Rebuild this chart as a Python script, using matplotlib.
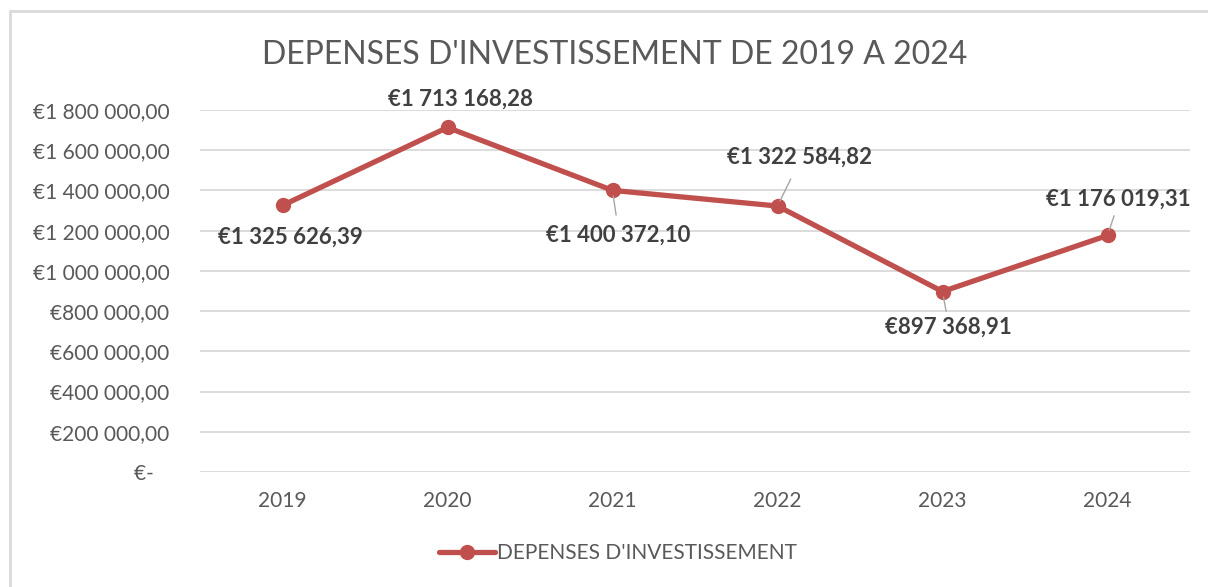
import matplotlib
matplotlib.use("Agg")
import matplotlib.pyplot as plt
from matplotlib.patches import Rectangle

# Data
years = ["2019", "2020", "2021", "2022", "2023", "2024"]
depenses = [1325626.39, 1713168.28, 1400372.10, 1322584.82, 897368.91, 1176019.31]
labels = ["€1 325 626,39", "€1 713 168,28", "€1 400 372,10",
          "€1 322 584,82", "€897 368,91", "€1 176 019,31"]
yticks = [0, 200000, 400000, 600000, 800000, 1000000, 1200000, 1400000, 1600000, 1800000]
ytick_labels = ["€-   ", "€200 000,00", "€400 000,00", "€600 000,00", "€800 000,00",
                "€1 000 000,00", "€1 200 000,00", "€1 400 000,00", "€1 600 000,00",
                "€1 800 000,00"]

# label offsets (pixels) and whether a leader line is drawn
offsets = [(8, -32), (13, 28), (6, -45), (22, 49), (6, -36), (11, 36)]
leaders = [False, False, True, True, True, True]

plt.rcParams['font.family'] = ['Lato', 'DejaVu Sans']
red = '#C0504D'
grey = '#595959'

fig = plt.figure(figsize=(12.08, 5.87), dpi=100)
ax = fig.add_axes([200/1208, 1 - 472/587, 990/1208, 362/587])

x = list(range(len(years)))
ax.plot(x, depenses, color=red, lw=3.8, marker='o', markersize=10, solid_capstyle='round',
        label="DEPENSES D'INVESTISSEMENT", zorder=3)

ax.set_xlim(-0.5, len(years) - 0.5)
ax.set_ylim(0, 1800000)
ax.set_xticks(x)
ax.set_xticklabels(years)
ax.set_yticks(yticks)
ax.set_yticklabels(ytick_labels)
ax.tick_params(axis='both', length=0, labelsize=15, colors=grey)
ax.tick_params(axis='y', pad=22)
ax.tick_params(axis='x', pad=14)
ax.grid(axis='y', color='#D9D9D9', lw=1.3)
ax.set_axisbelow(True)
for s in ax.spines.values():
    s.set_visible(False)

for i, (v, lab) in enumerate(zip(depenses, labels)):
    dx, dy = offsets[i]
    ax.annotate(lab, (i, v), xytext=(dx, dy), textcoords='offset pixels',
                ha='center', va='center', fontsize=16, fontweight='bold', color='#404040')
    if leaders[i]:
        # short grey leader line from the point toward the label
        ax.annotate('', (i, v), xytext=(dx * 0.6, dy * 0.55), textcoords='offset pixels',
                    arrowprops=dict(arrowstyle='-', color='#A6A6A6', lw=1, shrinkA=0, shrinkB=4))

fig.text(615/1208, 1 - 55/587, "DEPENSES D'INVESTISSEMENT DE 2019 A 2024",
         ha='center', va='center', fontsize=23, color=grey)

leg = fig.legend(loc='center', bbox_to_anchor=(618/1208, 1 - 553/587), frameon=False,
                 fontsize=15, handlelength=2.7, handletextpad=0.1)
for t in leg.get_texts():
    t.set_color(grey)

fig.patches.append(Rectangle((10/1208, -0.1), 1.2, 1 - 11/587 + 0.1, transform=fig.transFigure,
                             fill=False, ec='#D9D9D9', lw=2))

fig.savefig('out.png', dpi=100)
